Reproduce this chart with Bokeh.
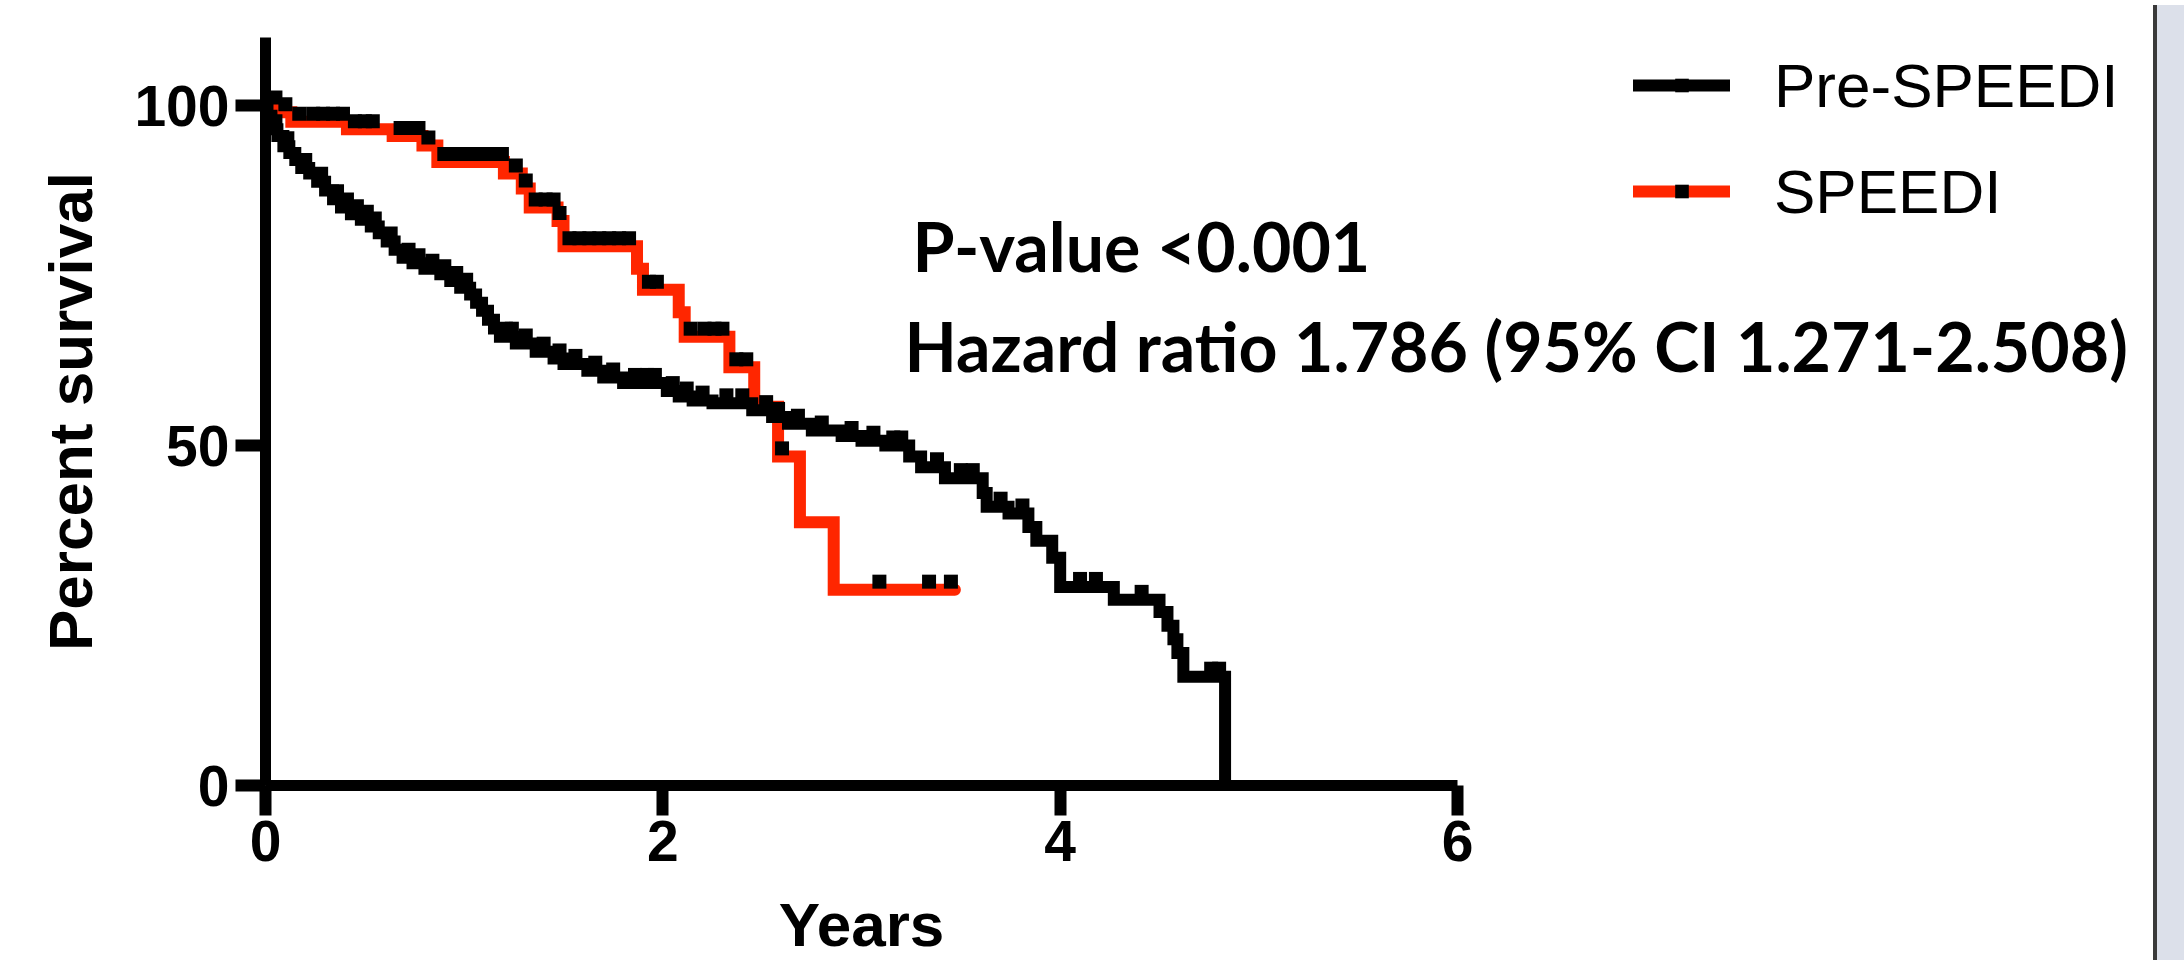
import numpy as np
from bokeh.plotting import figure
from bokeh.models import Range1d, Legend, LegendItem, Label, FixedTicker, Div
from bokeh.layouts import row
from bokeh.embed import file_html
from bokeh.resources import INLINE

# ---------------- data ----------------
series_names = ["Pre-SPEEDI", "SPEEDI"]

pre_times = [0, 0.01, 0.03, 0.06, 0.09, 0.12, 0.15, 0.18, 0.22, 0.26, 0.30, 0.34, 0.38, 0.43,
             0.48, 0.53, 0.57, 0.61, 0.65, 0.69, 0.74, 0.80, 0.88, 0.93, 0.98, 1.03, 1.06, 1.09,
             1.12, 1.15, 1.18, 1.26, 1.36, 1.45, 1.50, 1.62, 1.70, 1.80, 2.02, 2.08, 2.15, 2.25,
             2.45, 2.55, 2.63, 2.75, 2.90, 3.00, 3.12, 3.24, 3.30, 3.42, 3.61, 3.63, 3.74, 3.84,
             3.88, 3.96, 4.00, 4.27, 4.50, 4.54, 4.57, 4.59, 4.62, 4.83]
pre_surv = [100, 98.5, 96.5, 95.5, 94.0, 93.0, 92.0, 90.8, 90.0, 88.8, 87.5, 86.2, 85.0, 84.0,
            83.2, 82.2, 81.2, 80.0, 78.8, 77.6, 76.8, 76.0, 75.2, 74.2, 73.2, 72.2, 71.0, 69.8,
            68.5, 67.2, 66.0, 65.0, 63.8, 62.8, 62.0, 61.0, 60.0, 59.2, 58.0, 57.2, 56.6, 56.2,
            55.2, 54.2, 53.2, 52.2, 51.4, 50.7, 50.0, 48.4, 46.8, 45.2, 43.0, 41.0, 40.0, 38.0,
            36.0, 33.5, 29.2, 27.3, 25.5, 23.5, 21.5, 19.5, 16.0, 0.0]
pre_censor_times = [0.05, 0.11, 0.20, 0.28, 0.36, 0.41, 0.46, 0.51, 0.55, 0.63, 0.72, 0.77, 0.84,
                    0.90, 0.96, 1.01, 1.21, 1.24, 1.31, 1.40, 1.48, 1.56, 1.66, 1.75, 1.86, 1.92,
                    1.96, 2.05, 2.12, 2.20, 2.32, 2.40, 2.52, 2.58, 2.68, 2.80, 2.95, 3.06, 3.16,
                    3.20, 3.38, 3.50, 3.56, 3.70, 3.81, 4.10, 4.18, 4.41, 4.76, 4.80]

speedi_times = [0, 0.08, 0.13, 0.41, 0.64, 0.79, 0.865, 1.20, 1.29, 1.33, 1.47, 1.50, 1.87, 1.90,
                2.08, 2.11, 2.335, 2.46, 2.58, 2.69, 2.86, 3.47]
speedi_surv = [100, 99.0, 97.6, 96.5, 95.5, 94.1, 91.7, 90.0, 87.8, 85.0, 83.0, 79.3, 76.0, 72.9,
               69.6, 66.0, 61.5, 55.7, 48.4, 38.7, 28.8, 28.8]
speedi_censor_times = [0.05, 0.10, 0.17, 0.24, 0.29, 0.34, 0.39, 0.45, 0.50, 0.54, 0.68, 0.73,
                       0.77, 0.82, 0.90, 0.95, 1.00, 1.05, 1.10, 1.15, 1.19, 1.26, 1.31, 1.36,
                       1.41, 1.45, 1.48, 1.53, 1.58, 1.63, 1.68, 1.73, 1.78, 1.83, 1.93, 1.97,
                       2.14, 2.21, 2.26, 2.30, 2.37, 2.42, 2.60, 3.09, 3.34, 3.45]

x_ticks = [0, 2, 4, 6]
y_ticks = [0, 50, 100]
x_label = "Years"
y_label = "Percent survival"
p_value_text = "P-value <0.001"
hr_text = "Hazard ratio 1.786 (95% CI 1.271-2.508)"

# ---------------- layout constants ----------------
FIG_W, FIG_H = 2148, 960
FRAME_LEFT, FRAME_TOP = 265, 37
FRAME_BOTTOM_PAD = FIG_H - 785
PX_PER_YEAR = 198.67
PX_PER_PCT = 6.8
X_END = (FIG_W - FRAME_LEFT) / PX_PER_YEAR
MARK_LIFT = 8 / PX_PER_PCT   # censor tick sits above the line

BLACK = "#000000"
RED = "#FF2600"


def surv_at(times, surv, t):
    idx = np.searchsorted(np.asarray(times), np.asarray(t), side="right") - 1
    return np.asarray(surv)[idx]


p = figure(width=FIG_W, height=FIG_H, x_range=Range1d(0, X_END), y_range=Range1d(0, 110),
           output_backend="svg", toolbar_location=None,
           min_border_left=FRAME_LEFT, min_border_right=0,
           min_border_top=FRAME_TOP, min_border_bottom=FRAME_BOTTOM_PAD)
p.outline_line_color = None
p.grid.visible = False
p.background_fill_color = "white"
p.border_fill_color = "white"

# step curves
spd_line = p.step(speedi_times, speedi_surv, mode="after", line_color=RED, line_width=12,
                  line_join="miter", line_cap="round")
pre_line = p.step(pre_times, pre_surv, mode="after", line_color=BLACK, line_width=12,
                  line_join="miter", line_cap="round")

# censor marks (black ticks on both curves)
spd_y = surv_at(speedi_times, speedi_surv, speedi_censor_times) + MARK_LIFT
pre_y = surv_at(pre_times, pre_surv, pre_censor_times) + MARK_LIFT
spd_marks = p.scatter(speedi_censor_times, list(spd_y), marker="square", size=14,
                      color=BLACK, line_width=0)
pre_marks = p.scatter(pre_censor_times, list(pre_y), marker="square", size=14,
                      color=BLACK, line_width=0)

legend = Legend(items=[LegendItem(label=series_names[0], renderers=[pre_line, pre_marks]),
                       LegendItem(label=series_names[1], renderers=[spd_line, spd_marks])],
                location=(1368, 558), orientation="vertical",
                glyph_width=97, glyph_height=34, label_height=72, spacing=34,
                label_standoff=44, padding=0, margin=0,
                border_line_alpha=0, background_fill_alpha=0,
                label_text_font="Liberation Sans", label_text_font_size="62px",
                label_text_color="black")
p.add_layout(legend)

# axes
for ax in (p.xaxis, p.yaxis):
    ax.axis_line_width = 11
    ax.axis_line_color = BLACK
    ax.major_tick_line_width = 12
    ax.major_tick_line_color = BLACK
    ax.major_tick_out = 30
    ax.major_tick_in = 0
    ax.minor_tick_line_color = None
    ax.major_label_text_font = "Liberation Sans"
    ax.major_label_text_font_style = "bold"
    ax.major_label_text_font_size = "57px"
    ax.major_label_text_color = BLACK
    ax.axis_label_text_font = "Liberation Sans"
    ax.axis_label_text_font_style = "bold"
    ax.axis_label_text_color = BLACK

p.xaxis.ticker = FixedTicker(ticks=x_ticks)
p.xaxis.bounds = (0, 6)
p.xaxis.major_label_standoff = 5

p.yaxis.ticker = FixedTicker(ticks=y_ticks)
p.yaxis.major_label_standoff = 6
p.yaxis.axis_label = y_label
p.yaxis.axis_label_text_font_size = "62px"
p.yaxis.axis_label_standoff = 26

# x axis title, placed in the panel below the axis (centred under the axis bounds)
p.add_layout(Label(x=3, y=-20.44, text=x_label, text_font="Liberation Sans",
                   text_font_style="bold", text_font_size="62px", text_color=BLACK,
                   text_align="center", text_baseline="alphabetic"), "below")

# annotations
p.add_layout(Label(x=3.257, y=79.4, text=p_value_text, text_font="Lato",
                   text_font_style="bold", text_font_size="68px", text_color=BLACK,
                   text_baseline="alphabetic", text_align="left"))
p.add_layout(Label(x=3.216, y=64.7, text=hr_text, text_font="Lato",
                   text_font_style="bold", text_font_size="68px", text_color=BLACK,
                   text_baseline="alphabetic", text_align="left"))

side = Div(width=2184 - FIG_W, height=FIG_H,
           styles={"background-color": "#DCE0EA", "border-left": "4px solid #3a3a3a",
                   "box-sizing": "border-box", "height": f"{FIG_H}px"})

layout = row(p, side)
open("out.html", "w").write(file_html(layout, INLINE))
